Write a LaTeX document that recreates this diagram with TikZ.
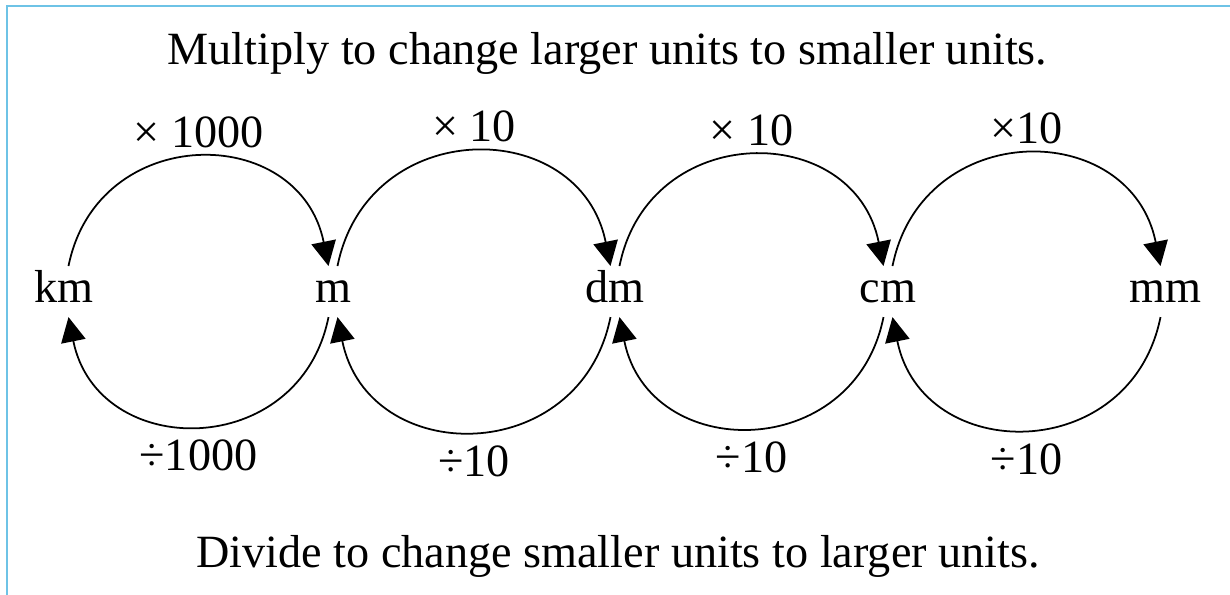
\documentclass[tikz,border=0pt]{standalone}
\usepackage{fontspec}
\setmainfont{Liberation Serif}
\usetikzlibrary{arrows.meta}
\definecolor{frameblue}{HTML}{6EC3E6}
\tikzset{unit/.style={font=\fontsize{26.3}{31}\selectfont, text height=18pt, text depth=5pt, inner ysep=0.1cm, inner xsep=2pt, minimum width=1.6cm, anchor=base},
  lbl/.style={font=\fontsize{26.3}{31}\selectfont, text height=18pt, text depth=0pt, inner sep=0.2cm},
  hop/.style={-{Triangle[length=14pt,width=14pt]}, line width=1pt, looseness=1.45},
  caption/.style={font=\fontsize{26.3}{31}\selectfont, anchor=base, inner sep=0pt}}

\begin{document}
\begin{tikzpicture}[x=1cm,y=1cm]
\useasboundingbox (0,0) rectangle (24.6,11.9);
% ---- frame ----
\draw[frameblue, line width=0.04cm] (0.14,0) -- (0.14,11.78) -- (24.6,11.78);
% ---- captions ----
\node[caption] (mul) at (12.15,10.6) {Multiply to change larger units to smaller units.};
\node[caption] (div) at (12.36,0.54) {Divide to change smaller units to larger units.};
% ---- units ----
\foreach \u/\x in {km/1.28,m/6.66,dm/12.3,cm/17.76,mm/23.3}
  \node[unit] (\u) at (\x,5.84) {\u};
% ---- hops ----
\foreach \a/\b/\up/\dn in {km/m/× 1000/÷1000, m/dm/× 10/÷10, dm/cm/× 10/÷10, cm/mm/×10/÷10}{
  \draw[hop] (\a.80) to[out=78.6, in=101.4] node[lbl, above, midway] {\up} (\b.100);
  \draw[hop] (\b.260) to[out=-101.4, in=-78.6] node[lbl, below=0.06cm, midway] {\dn} (\a.280);}
\end{tikzpicture}
\end{document}
